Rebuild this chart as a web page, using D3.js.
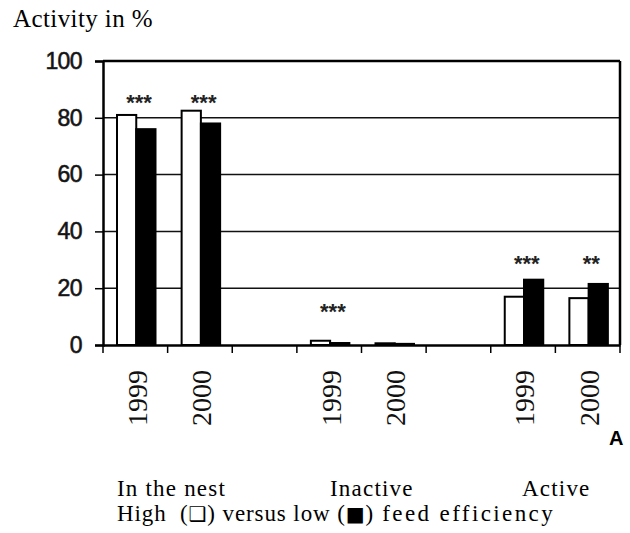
<!DOCTYPE html>
<html>
<head>
<meta charset="utf-8">
<script src="https://cdn.jsdelivr.net/npm/d3@7"></script>
<style>
  html, body { margin: 0; padding: 0; background: #fff; }
  svg { display: block; }
</style>
</head>
<body>
<div id="chart"></div>
<script>
// ---- data ----
const slots = ["n1999", "n2000", "gap1", "i1999", "i2000", "gap2", "a1999", "a2000"];
const yearLabels = ["1999", "2000", "", "1999", "2000", "", "1999", "2000"];
const groupLabels = ["In the nest", "Inactive", "Active"];
const highValues = [81, 82.5, null, 1.5, 0.6, null, 17, 16.5];
const lowValues = [76, 78, null, 0.7, 0.4, null, 23, 21.5];
const significance = ["***", "***", "", "***", "", "", "***", "**"];
const significanceLevel = [87, 87, null, 13.4, null, null, 30.3, 30.3];
const yTicks = [0, 20, 40, 60, 80, 100];
const series = ["high", "low"];

const SERIF = '"Liberation Serif", "Times New Roman", Times, serif';
const SANS = '"Liberation Sans", Arial, Helvetica, sans-serif';

// ---- layout ----
const W = 630, H = 533;
const plot = { left: 103, right: 620, top: 61, bottom: 345 };

const svg = d3.select("#chart").append("svg").attr("width", W).attr("height", H);

const x = d3.scaleBand().domain(slots).range([plot.left, plot.right]).padding(0);
const xs = d3.scaleBand().domain(series).range([14, 52.5]).padding(0);
const y = d3.scaleLinear().domain([0, 100]).range([plot.bottom, plot.top]);

// gridlines
svg.append("g").selectAll("line")
  .data(yTicks.filter(d => d > 0 && d < 100))
  .join("line")
  .attr("x1", plot.left).attr("x2", plot.right)
  .attr("y1", d => y(d)).attr("y2", d => y(d))
  .attr("stroke", "#111").attr("stroke-width", 1.5);

// bars
const rows = slots.map((s, i) => ({ slot: s, high: highValues[i], low: lowValues[i] }));
const bars = svg.append("g");
rows.forEach(r => {
  series.forEach(k => {
    const v = r[k];
    if (v == null) return;
    bars.append("rect")
      .attr("x", x(r.slot) + xs(k))
      .attr("y", y(v))
      .attr("width", xs.bandwidth())
      .attr("height", y(0) - y(v))
      .attr("fill", k === "high" ? "#fff" : "#000")
      .attr("stroke", "#000")
      .attr("stroke-width", 2);
  });
});

// significance stars
svg.append("g").selectAll("text")
  .data(slots.map((s, i) => ({ s, t: significance[i], lvl: significanceLevel[i] })).filter(d => d.t))
  .join("text")
  .style("font-family", SANS)
  .attr("x", d => x(d.s) + 36)
  .attr("y", d => y(d.lvl) + 12)
  .attr("text-anchor", "middle")
  .attr("font-weight", "bold")
  .attr("font-size", 22)
  .attr("fill", "#222")
  .text(d => d.t);

// frame: top and right
const frame = svg.append("g").attr("stroke", "#000").attr("stroke-width", 2.5).attr("fill", "none");
frame.append("line").attr("x1", plot.left).attr("x2", plot.right).attr("y1", y(100)).attr("y2", y(100));
frame.append("line").attr("x1", plot.right).attr("x2", plot.right).attr("y1", y(100)).attr("y2", y(0));

// y axis
const yAxis = svg.append("g")
  .attr("transform", `translate(${plot.left},0)`)
  .call(d3.axisLeft(y).tickValues(yTicks).tickSize(8).tickPadding(13));
yAxis.attr("font-family", null).attr("font-size", null);
yAxis.select(".domain").attr("stroke", "#000").attr("stroke-width", 2.5);
yAxis.selectAll(".tick line").attr("stroke", "#000").attr("stroke-width", 1.5);
yAxis.selectAll(".tick text")
  .style("font-family", SANS)
  .style("font-size", "23px")
  .attr("letter-spacing", -0.6)
  .attr("stroke", "#222").attr("stroke-width", 0.6)
  .attr("fill", "#111");

// x axis
const xAxis = svg.append("g")
  .attr("transform", `translate(0,${plot.bottom})`)
  .call(d3.axisBottom(x).tickSize(0).tickFormat(""));
xAxis.select(".domain").attr("stroke", "#000").attr("stroke-width", 2.5);
xAxis.selectAll(".tick").remove();
const bounds = slots.map(s => x(s)).concat([x(slots[slots.length - 1]) + x.bandwidth()]);
xAxis.selectAll("line.boundary")
  .data(bounds).join("line").attr("class", "boundary")
  .attr("x1", d => d).attr("x2", d => d).attr("y1", 0).attr("y2", 8)
  .attr("stroke", "#000").attr("stroke-width", 1.5);

// year labels (rotated)
svg.append("g").selectAll("text")
  .data(slots.map((s, i) => ({ s, t: yearLabels[i] })).filter(d => d.t))
  .join("text")
  .style("font-family", SERIF)
  .attr("transform", d => `translate(${x(d.s) + x.bandwidth() / 2 + 1.5},370) rotate(-90)`)
  .attr("text-anchor", "end")
  .attr("dy", "0.35em")
  .attr("font-size", 28)
  .attr("fill", "#111")
  .text(d => d.t);

// y title
svg.append("text")
  .style("font-family", SERIF)
  .attr("x", 13).attr("y", 27)
  .attr("font-size", 25)
  .attr("letter-spacing", 0.4)
  .attr("fill", "#000")
  .text("Activity in %");

// group labels
const groupX = [117, 330, 522];
svg.append("g").selectAll("text")
  .data(groupLabels)
  .join("text")
  .style("font-family", SERIF)
  .attr("x", (d, i) => groupX[i]).attr("y", 496)
  .attr("font-size", 23)
  .attr("letter-spacing", 1.2)
  .attr("fill", "#000")
  .text(d => d);

// legend line
const leg = svg.append("text")
  .style("font-family", SERIF)
  .attr("x", 117).attr("y", 521)
  .attr("font-size", 23)
  .attr("letter-spacing", 0.9)
  .attr("fill", "#000");
leg.append("tspan").text("High\u00a0\u00a0(");
leg.append("tspan").style("font-family", '"DejaVu Sans", sans-serif').attr("font-size", 20).text("\u2751");
leg.append("tspan").text(") versus low (");
leg.append("tspan").style("font-family", '"DejaVu Sans", sans-serif').attr("font-size", 20).text("\u25A0");
leg.append("tspan").text(")");
leg.append("tspan").attr("letter-spacing", 2.4).text(" feed efficiency");

// cut-off panel letter at bottom right
svg.append("text")
  .style("font-family", SANS)
  .attr("x", 609).attr("y", 445)
  .attr("font-weight", "bold")
  .attr("font-size", 20)
  .attr("fill", "#000")
  .text("A");
</script>
</body>
</html>
